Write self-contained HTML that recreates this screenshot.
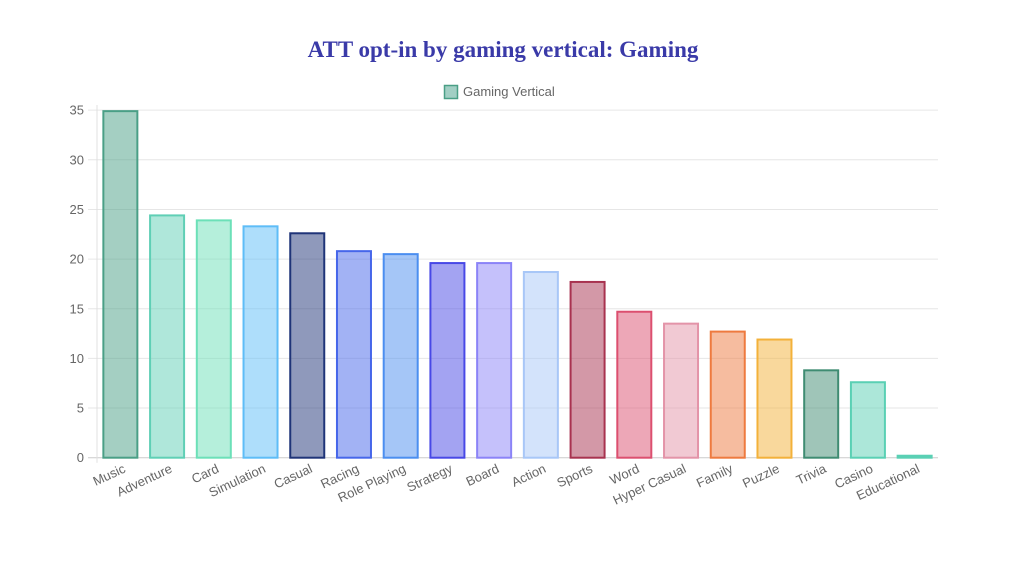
<!DOCTYPE html>
<html><head><meta charset="utf-8"><style>
body{margin:0;background:#fff;width:1024px;height:570px;overflow:hidden}
text{font-family:"Liberation Sans",sans-serif}
</style></head><body>
<svg width="1024" height="570">
<text x="503" y="57" text-anchor="middle" font-family="Liberation Serif" font-weight="bold" font-size="23" fill="#3a3aa8" style="font-family:'Liberation Serif',serif">ATT opt-in by gaming vertical: Gaming</text>
<g>
<rect x="444.5" y="85.5" width="13" height="13" fill="rgba(69,160,138,0.5)" stroke="#4a9f86" stroke-width="1.5"/>
<text x="463" y="96" font-size="13" fill="#666">Gaming Vertical</text>
</g>
<g id="grid"></g><g id="bars"></g><g id="xl"></g>
</svg>
<script>
const categories=["Music","Adventure","Card","Simulation","Casual","Racing","Role Playing","Strategy","Board","Action","Sports","Word","Hyper Casual","Family","Puzzle","Trivia","Casino","Educational"];
const values=[34.9,24.4,23.9,23.3,22.6,20.8,20.5,19.6,19.6,18.7,17.7,14.7,13.5,12.7,11.9,8.8,7.6,0.2];
const yTicks=[0,5,10,15,20,25,30,35];
const colors=["#4a9f86","#5fcfb5","#6ce0b8","#5ebdf7","#1f3478","#4666ea","#4b8ef0","#4848e6","#8b83f7","#a8c7f7","#a8324f","#dc4f6f","#e394a8","#ee7a3f","#f3b13a","#3f8c72","#5ad0b4","#5ad0b4"];
const X0=97,X1=938,Y0=457.7,PX=9.93;
const y=v=>Y0-v*PX;
const step=(X1-X0)/categories.length;
const xc=i=>X0+step*(i+0.5);
const NS="http://www.w3.org/2000/svg";
function mk(t,a,p){const e=document.createElementNS(NS,t);for(const k in a)e.setAttribute(k,a[k]);p.appendChild(e);return e;}
const g=document.getElementById('grid');
yTicks.forEach(t=>{
 const l=mk('line',{x1:88,x2:X1,y1:y(t),y2:y(t),stroke:t===0?'#ccc':'#e6e6e6','stroke-width':1},g);
 
 
 const tx=mk('text',{x:84,y:y(t)+4.5,'text-anchor':'end','font-size':13,fill:'#666'},g);
 tx.textContent=t;
 
 
});
const ax=mk('line',{x1:X0,x2:X0,y1:105,y2:Y0+5,stroke:'#e0e0e0'},g);


const b=document.getElementById('bars'),xl=document.getElementById('xl');
const bw=34;
function rgba(h,a){const n=parseInt(h.slice(1),16);return `rgba(${n>>16},${(n>>8)&255},${n&255},${a})`;}
categories.forEach((c,i)=>{
 const top=y(values[i]);
 const r=mk('rect',{x:xc(i)-bw/2,y:top,width:bw,height:Y0-top,fill:rgba(colors[i],0.5),stroke:colors[i],'stroke-width':2},b);
 
 
 const t=mk('text',{x:xc(i)+6,y:Y0+14,'text-anchor':'end','font-size':13,fill:'#666',transform:`rotate(-25 ${xc(i)+6} ${Y0+14})`},xl);
 t.textContent=c;
 
 
});
</script>
</body></html>
